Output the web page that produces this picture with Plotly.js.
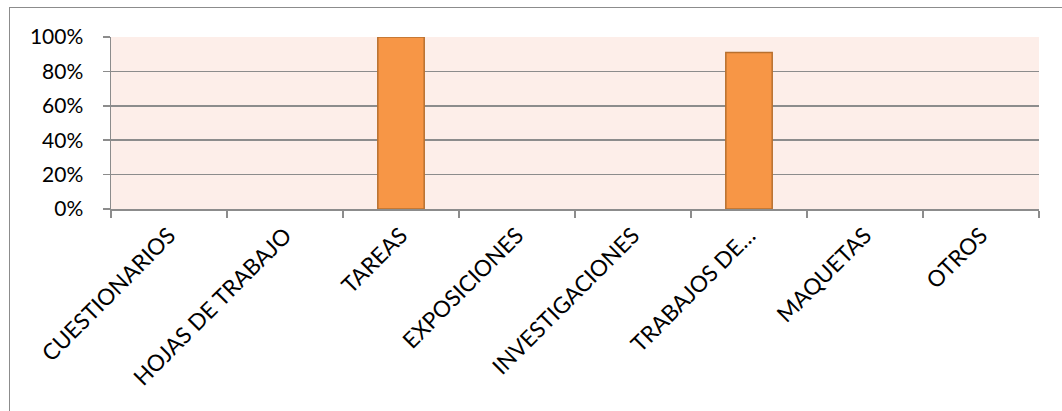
<!DOCTYPE html>
<html>
<head>
<meta charset="utf-8">
<script src="https://cdn.plot.ly/plotly-3.0.1.min.js"></script>
<style>
  html, body { margin: 0; padding: 0; background: #fff; overflow: hidden; }
  #wrap { position: relative; width: 1062px; height: 411px; overflow: hidden; }
  #chart { width: 1062px; height: 411px; }
  #frame { position: absolute; left: 9px; top: 7px; width: 1200px; height: 600px;
           border-left: 1.5px solid #8c8c8c; border-top: 1.5px solid #8c8c8c; pointer-events: none; }
</style>
</head>
<body>
<div id="wrap">
  <div id="chart"></div>
  <div id="frame"></div>
</div>
<script>
const categories = ["CUESTIONARIOS", "HOJAS DE TRABAJO", "TAREAS", "EXPOSICIONES",
                    "INVESTIGACIONES", "TRABAJOS DE\u2026", "MAQUETAS", "OTROS"];
const values = [0, 0, 1.0, 0, 0, 0.91, 0, 0];
const yTickValues = [0, 0.2, 0.4, 0.6, 0.8, 1.0];
const yTickLabels = ["0%", "20%", "40%", "60%", "80%", "100%"];

const trace = {
  type: "bar",
  x: categories,
  y: values,
  marker: {
    color: "#F79646",
    line: { color: "#B8702F", width: values.map(v => (v > 0 ? 1.5 : 0)) }
  },
  hoverinfo: "skip"
};

const FONT = "Lato, 'Open Sans', sans-serif";

const layout = {
  width: 1062,
  height: 411,
  margin: { l: 111, r: 23, t: 37, b: 202 },
  paper_bgcolor: "#ffffff",
  plot_bgcolor: "#FDEEE9",
  bargap: 0.6,
  showlegend: false,
  font: { family: FONT, size: 21, color: "#000" },
  xaxis: {
    type: "category",
    tickangle: -45,
    showline: true,
    linecolor: "#8c8c8c",
    linewidth: 1.5,
    ticks: "outside",
    tickson: "boundaries",
    ticklen: 7,
    tickwidth: 1.5,
    tickcolor: "#8c8c8c",
    showgrid: false,
    zeroline: false,
    ticklabelstandoff: 3,
    tickfont: { family: FONT, size: 22.5, color: "#000" },
    automargin: false
  },
  yaxis: {
    range: [0, 1],
    tickvals: yTickValues,
    ticktext: yTickLabels,
    showline: true,
    linecolor: "#8c8c8c",
    linewidth: 1.5,
    ticks: "outside",
    ticklen: 7,
    tickwidth: 1.5,
    tickcolor: "#8c8c8c",
    showgrid: true,
    gridcolor: "#8c8c8c",
    gridwidth: 1.5,
    zeroline: false,
    ticklabelstandoff: 15,
    tickfont: { family: FONT, size: 21, color: "#000" },
    automargin: false
  }
};

Plotly.newPlot("chart", [trace], layout, { displayModeBar: false, staticPlot: true });
</script>
</body>
</html>
